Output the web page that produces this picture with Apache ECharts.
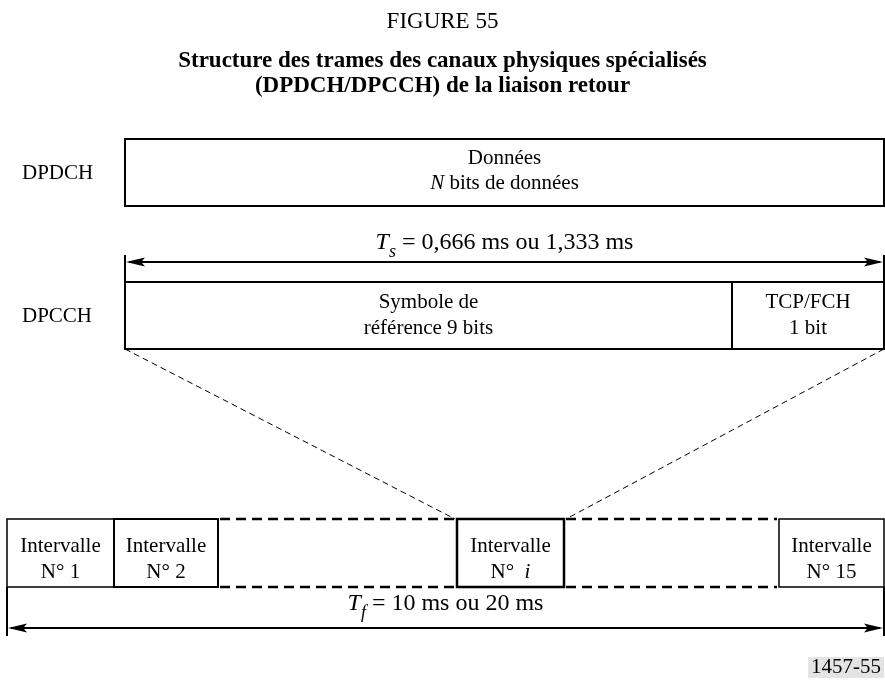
<!DOCTYPE html>
<html>
<head>
<meta charset="utf-8">
<script src="https://cdn.jsdelivr.net/npm/echarts@6/dist/echarts.min.js"></script>
<style>
  html, body { margin: 0; padding: 0; background: #fff; }
  #chart { width: 885px; height: 684px; }
</style>
</head>
<body>
<div id="chart"></div>
<script>
// texts of the figure
var figureNo = 'FIGURE 55';
var titleLines = [
  'Structure des trames des canaux physiques spécialisés',
  '(DPDCH/DPCCH) de la liaison retour'
];
var channelNames = ['DPDCH', 'DPCCH'];
var dpdchLines = ['Données', '{i|N} bits de données'];
var dpcchFields = [['Symbole de', 'référence 9 bits'], ['TCP/FCH', '1 bit']];
var slotWord = 'Intervalle';
var slotNumbers = ['N° 1', 'N° 2', 'N°  {i|i}', 'N° 15'];
var slotDuration = '{i|T}{s|s}{n| = 0,666 ms ou 1,333 ms}';
var frameDuration = '{i|T}{s|f}{n| = 10 ms ou 20 ms}';
var figureRef = '1457-55';

var FONT = 'Liberation Serif';

// layout of the drawing (axis units = pixels of the page)
var L = {
  left: 125, right: 884,
  dpdch: [139, 206],
  tsArrow: 262, tickTop: 255,
  dpcch: [282, 349], split: 732,
  row: [519, 587],
  slots: [[7, 114], [114, 218], [457, 564], [779, 884]],
  tfArrow: 628, tfTickBottom: 636
};

function renderDiagram(params, api) {
  var kids = [];
  function p(x, y) { return api.coord([x, y]); }
  function box(x0, y0, x1, y1, w) {
    var a = p(x0, y0), b = p(x1, y1);
    kids.push({ type: 'rect', shape: { x: a[0], y: a[1], width: b[0] - a[0], height: b[1] - a[1] },
      style: { fill: null, stroke: '#000', lineWidth: w } });
  }
  function seg(x0, y0, x1, y1, w, dash) {
    var a = p(x0, y0), b = p(x1, y1);
    kids.push({ type: 'line', shape: { x1: a[0], y1: a[1], x2: b[0], y2: b[1] },
      style: { stroke: '#000', lineWidth: w, lineDash: dash || null } });
  }
  function head(x, y, dir) {
    var a = p(x, y), len = 19, half = 4.5;
    kids.push({ type: 'polygon',
      shape: { points: [[a[0], a[1]], [a[0] - dir * len, a[1] - half], [a[0] - dir * len * 0.8, a[1]], [a[0] - dir * len, a[1] + half]] },
      style: { fill: '#000' } });
  }
  function label(x, y, text, size, align) {
    var a = p(x, y);
    kids.push({ type: 'text', x: a[0], y: a[1],
      style: { text: text, fill: '#000', fontFamily: FONT, fontSize: size,
        align: align || 'center', verticalAlign: 'middle',
        rich: { i: { fontStyle: 'italic', fontFamily: FONT, fontSize: size } } } });
  }
  function dur(x, y, text) {
    var a = p(x, y);
    kids.push({ type: 'text', x: a[0], y: a[1],
      style: { text: text, fill: '#000', align: 'center', verticalAlign: 'middle',
        rich: {
          i: { fontStyle: 'italic', fontFamily: FONT, fontSize: 24, lineHeight: 30, verticalAlign: 'top' },
          n: { fontFamily: FONT, fontSize: 24, lineHeight: 30, verticalAlign: 'top' },
          s: { fontStyle: 'italic', fontFamily: FONT, fontSize: 18, lineHeight: 13, verticalAlign: 'bottom' }
        } } });
  }

  var mid = (L.left + L.right) / 2;

  // DPDCH
  label(22, 173, channelNames[0], 21, 'left');
  box(L.left, L.dpdch[0], L.right, L.dpdch[1], 2);
  label(mid, 158, dpdchLines[0], 21);
  label(mid, 183, dpdchLines[1], 21);

  // slot duration arrow
  dur(mid, 246, slotDuration);
  seg(L.left, L.tickTop, L.left, L.dpcch[0], 2);
  seg(L.right, L.tickTop, L.right, L.dpcch[0], 2);
  seg(L.left + 4, L.tsArrow, L.right - 4, L.tsArrow, 2);
  head(L.left + 1, L.tsArrow, -1);
  head(L.right - 1, L.tsArrow, 1);

  // DPCCH
  label(22, 316, channelNames[1], 21, 'left');
  box(L.left, L.dpcch[0], L.right, L.dpcch[1], 2);
  seg(L.split, L.dpcch[0], L.split, L.dpcch[1], 2);
  var fx = [(L.left + L.split) / 2, (L.split + L.right) / 2];
  dpcchFields.forEach(function (f, k) {
    label(fx[k], 302, f[0], 21);
    label(fx[k], 328, f[1], 21);
  });

  // zoom lines
  var si = L.slots[2];
  seg(L.left, L.dpcch[1], si[0] - 2, L.row[0], 1, [6, 4]);
  seg(L.right, L.dpcch[1], si[1] + 2, L.row[0], 1, [6, 4]);

  // frame row
  var widths = [1.5, 2, 2.5, 1.5];
  L.slots.forEach(function (s, k) {
    box(s[0], L.row[0], s[1], L.row[1], widths[k]);
    var cx = (s[0] + s[1]) / 2;
    label(cx, 546, slotWord, 21);
    label(cx, 572, slotNumbers[k], 21);
  });
  [[L.slots[1][1], L.slots[2][0]], [L.slots[2][1], L.slots[3][0]]].forEach(function (g) {
    seg(g[0] + 2, L.row[0], g[1] - 2, L.row[0], 2.5, [10, 6]);
    seg(g[0] + 2, L.row[1], g[1] - 2, L.row[1], 2.5, [10, 6]);
  });

  // frame duration arrow
  var f0 = L.slots[0][0], f1 = L.slots[3][1];
  dur((f0 + f1) / 2, 607, frameDuration);
  seg(f0, L.row[1], f0, L.tfTickBottom, 2);
  seg(f1, L.row[1], f1, L.tfTickBottom, 2);
  seg(f0 + 4, L.tfArrow, f1 - 4, L.tfArrow, 2);
  head(f0 + 1, L.tfArrow, -1);
  head(f1 - 1, L.tfArrow, 1);

  // reference tag
  var r0 = p(808, 657), r1 = p(884, 678);
  kids.push({ type: 'rect', shape: { x: r0[0], y: r0[1], width: r1[0] - r0[0], height: r1[1] - r0[1] },
    style: { fill: '#e4e4e4' } });
  label(846, 667.5, figureRef, 21);

  return { type: 'group', children: kids };
}

var chart = echarts.init(document.getElementById('chart'));
chart.setOption({
  backgroundColor: '#fff',
  animation: false,
  title: [
    { text: figureNo, left: 'center', top: 10, padding: 0,
      textStyle: { fontFamily: FONT, fontWeight: 'normal', fontSize: 23, color: '#000' } },
    { text: titleLines.join('\n'), left: 'center', top: 49, padding: 0,
      textStyle: { fontFamily: FONT, fontWeight: 'bold', fontSize: 23, lineHeight: 25, color: '#000' } }
  ],
  grid: { left: 0, right: 0, top: 0, bottom: 0 },
  xAxis: { type: 'value', min: 0, max: 885, show: false },
  yAxis: { type: 'value', min: 0, max: 684, inverse: true, show: false },
  series: [{
    type: 'custom',
    clip: false,
    silent: true,
    renderItem: renderDiagram,
    data: [[0, 0]]
  }]
});
</script>
</body>
</html>
